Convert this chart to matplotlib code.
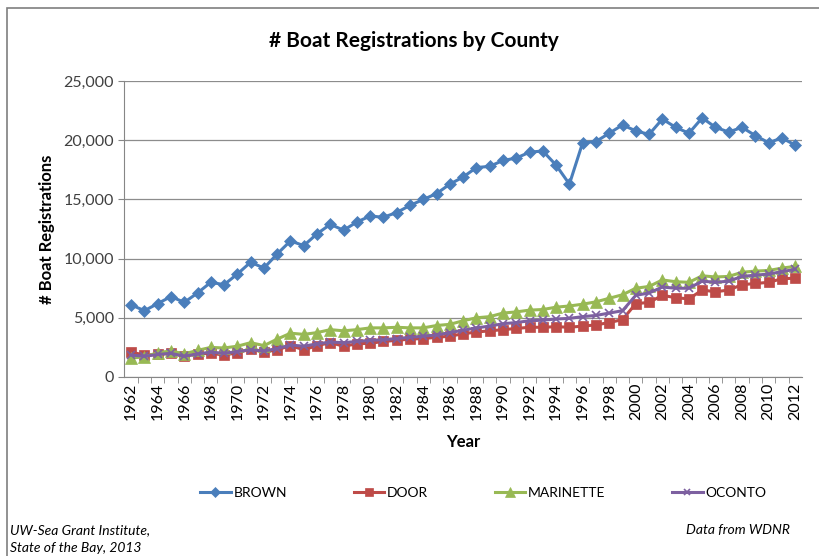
import matplotlib.pyplot as plt
from matplotlib.patches import Rectangle

plt.rcParams['font.family'] = ['Lato', 'DejaVu Sans']

years = list(range(1962, 2013))

brown = [6100, 5600, 6200, 6800, 6300, 7100, 8000, 7800, 8700, 9700,
         9200, 10400, 11500, 11100, 12100, 12900, 12400, 13100, 13600, 13500,
         13900, 14500, 15000, 15500, 16300, 16900, 17700, 17800, 18300, 18500,
         19000, 19100, 17900, 16300, 19800, 19900, 20600, 21300, 20800, 20500,
         21800, 21100, 20600, 21900, 21100, 20700, 21100, 20400, 19800, 20200,
         19600]

door = [2100, 1850, 1900, 2000, 1750, 1950, 2000, 1850, 2050, 2350,
        2100, 2300, 2650, 2300, 2650, 2900, 2600, 2800, 2850, 3000,
        3100, 3200, 3250, 3350, 3450, 3650, 3800, 3900, 4000, 4100,
        4200, 4200, 4250, 4200, 4300, 4400, 4600, 4850, 6200, 6300,
        6900, 6700, 6600, 7350, 7200, 7350, 7800, 7900, 8000, 8300,
        8350]

marinette = [1600, 1700, 2050, 2200, 1950, 2250, 2500, 2450, 2600, 2900,
             2650, 3200, 3700, 3600, 3750, 4000, 3900, 4000, 4150, 4150,
             4200, 4150, 4150, 4350, 4450, 4750, 5000, 5100, 5400, 5500,
             5650, 5700, 5900, 6000, 6150, 6350, 6650, 6950, 7500, 7650,
             8200, 8050, 8000, 8550, 8450, 8500, 8850, 8950, 9000, 9200,
             9350]

oconto = [1850, 1750, 1900, 2000, 1750, 1950, 2100, 2000, 2150, 2300,
          2200, 2400, 2700, 2600, 2800, 2950, 2900, 3000, 3100, 3150,
          3250, 3350, 3450, 3550, 3750, 3950, 4150, 4300, 4500, 4600,
          4750, 4800, 4900, 4950, 5100, 5200, 5400, 5600, 6900, 7100,
          7600, 7500, 7500, 8100, 8000, 8100, 8500, 8600, 8700, 8900,
          9100]

series = [("BROWN", brown, "#4A7EBB", "D", 6.5),
          ("DOOR", door, "#BE4B48", "s", 7.5),
          ("MARINETTE", marinette, "#98B954", "^", 8.5),
          ("OCONTO", oconto, "#7D60A0", "x", 6)]

fig = plt.figure(figsize=(8.19, 5.56), dpi=100)
ax = fig.add_axes([0.152, 0.322, 0.827, 0.532])

for name, vals, color, mk, ms in series:
    ax.plot(years, vals, color=color, marker=mk, markersize=ms, linewidth=2.2,
            markeredgecolor=color, markeredgewidth=1.2 if mk == "x" else 0.5, label=name)

ax.set_xlim(1961.5, 2012.5)
ax.set_ylim(0, 25000)
ax.set_yticks(range(0, 25001, 5000))
ax.set_yticklabels(["0", "5,000", "10,000", "15,000", "20,000", "25,000"], fontsize=11.5, color="#404040")
ax.set_xticks(years[::2])
ax.set_xticklabels([str(y) for y in years[::2]], rotation=90, fontsize=11.5)
ax.set_xticks([y + 0.5 for y in years[:-1]], minor=True)
ax.tick_params(axis="x", which="major", length=0, pad=4)
ax.tick_params(axis="x", which="minor", length=4, color="#868686")
ax.tick_params(axis="y", length=4, color="#868686")

ax.grid(axis="y", color="#8c8c8c", linewidth=0.9)
ax.set_axisbelow(True)
for side in ["top", "right"]:
    ax.spines[side].set_visible(False)
ax.spines["left"].set_color("#868686")
ax.spines["bottom"].set_color("#868686")

ax.set_xlabel("Year", fontsize=12, fontweight="bold", labelpad=10)
ax.set_ylabel("# Boat Registrations", fontsize=12, fontweight="bold", labelpad=6)

fig.text(0.505, 0.926, "# Boat Registrations by County", ha="center", va="center",
         fontsize=15, fontweight="bold")

fig.legend(loc="center", bbox_to_anchor=(0.59, 0.113), ncol=4, frameon=False,
           fontsize=10, handlelength=2.2, handletextpad=0.2, columnspacing=4.8,
           markerscale=0.8)

fig.text(0.012, 0.047, "UW-Sea Grant Institute,", fontsize=10, style="italic", va="center")
fig.text(0.012, 0.014, "State of the Bay, 2013", fontsize=10, style="italic", va="center")
fig.text(0.965, 0.047, "Data from WDNR", fontsize=10, style="italic", va="center", ha="right")

fig.patches.append(Rectangle((7 / 819, -0.05), 1.05, 1 - 8 / 556 + 0.05, transform=fig.transFigure,
                             fill=False, edgecolor="#7f7f7f", linewidth=1.2))

fig.savefig("out.png", dpi=100)
